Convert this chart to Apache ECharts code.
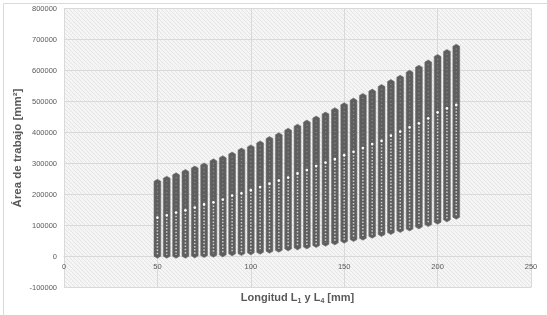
<!DOCTYPE html>
<html>
<head>
<meta charset="utf-8">
<script src="https://cdn.jsdelivr.net/npm/echarts@6/dist/echarts.min.js"></script>
<style>
html,body{margin:0;padding:0;background:#fff;}
#chart{width:547px;height:315px;}
</style>
</head>
<body>
<div id="chart"></div>
<script>
// Longitud L1 y L4 [mm] (one column of points per length)
const lengths = [50,55,60,65,70,75,80,85,90,95,100,105,110,115,120,125,130,135,140,145,150,155,160,165,170,175,180,185,190,195,200,205,210];
// Smallest work area in each column [mm2]
const areaMin = [5400,5400,5400,5400,6500,7500,8600,9700,12900,14000,16100,18300,21500,24700,29000,32300,35500,39800,44100,48400,53800,59100,63400,69900,75300,81700,88200,93500,100000,107500,115100,122600,131200];
// Largest work area in each column [mm2]
const areaMax = [238000,248000,259000,270000,281000,291000,304000,314000,326000,339000,349000,362000,376000,388000,403000,416000,429000,442000,455000,469000,485000,500000,515000,529000,544000,560000,574000,590000,606000,623000,641000,657000,674000];
// Upper end of the sparser (lighter) part of each column [mm2]
const areaSparseTop = [126000,133000,142000,149000,158000,168000,175000,184000,197000,204000,214000,224000,235000,245000,255000,268000,279000,292000,303000,314000,327000,338000,350000,363000,373000,390000,403000,417000,430000,446000,465000,478000,489000];
// Axis ticks
const xTicks = {min: 0, max: 250, step: 50};
const yTicks = {min: -100000, max: 800000, step: 100000};

const columns = lengths.map((x, i) => [x, areaMin[i], areaMax[i], areaSparseTop[i]]);

// hatched plot background
const pc = document.createElement('canvas');
pc.width = 4; pc.height = 4;
const g = pc.getContext('2d');
g.fillStyle = '#f5f5f5'; g.fillRect(0,0,4,4);
g.strokeStyle = '#e4e4e4'; g.lineWidth = 1;
g.beginPath(); g.moveTo(-1,-1); g.lineTo(5,5); g.stroke();
g.beginPath(); g.moveTo(-1,3); g.lineTo(1,5); g.stroke();
g.beginPath(); g.moveTo(3,-1); g.lineTo(5,1); g.stroke();

const txt = '#595959';
const chart = echarts.init(document.getElementById('chart'), null, {renderer: 'canvas'});

function renderColumn(params, api) {
  const x = api.value(0);
  const top = api.coord([x, api.value(2)]);
  const bot = api.coord([x, api.value(1)]);
  const mid = api.coord([x, api.value(3)]);
  const cx = top[0], w = 3.4, cap = 3.4;
  return {
    type: 'group',
    children: [
      {type: 'polygon', shape: {points: [
        [cx, top[1]-cap], [cx+w, top[1]-cap*0.4], [cx+w, bot[1]+cap*0.4],
        [cx, bot[1]+cap], [cx-w, bot[1]+cap*0.4], [cx-w, top[1]-cap*0.4]]},
        style: {fill: '#5e5e5e', stroke: '#707070', lineWidth: 0.6}},
      {type: 'line', shape: {x1: cx, y1: top[1]+1, x2: cx, y2: mid[1]},
        style: {stroke: '#888888', lineWidth: 1.2, lineDash: [1.2, 2.6]}},
      {type: 'line', shape: {x1: cx, y1: mid[1], x2: cx, y2: bot[1]},
        style: {stroke: '#d0d0d0', lineWidth: 1.5, lineDash: [1.5, 1.7]}},
      {type: 'circle', shape: {cx: cx, cy: mid[1], r: 1.3}, style: {fill: '#ffffff'}}
    ]
  };
}

chart.setOption({
  animation: false,
  backgroundColor: '#ffffff',
  grid: {left: 64, right: 16, top: 8.5, bottom: 27.5, show: true, containLabel: false,
    outerBoundsMode: 'none',
    backgroundColor: {image: pc, repeat: 'repeat'}, borderWidth: 0},
  graphic: [{type: 'rect', left: 1, top: 1, shape: {width: 544, height: 312},
    style: {fill: null, stroke: '#d9d9d9', lineWidth: 1}, silent: true}],
  xAxis: {
    type: 'value', min: xTicks.min, max: xTicks.max, interval: xTicks.step,
    position: 'bottom', offset: -31,
    axisLine: {show: true, onZero: false, lineStyle: {color: '#d9d9d9'}},
    axisTick: {show: false},
    splitLine: {show: true, lineStyle: {color: '#d9d9d9', width: 1}},
    axisLabel: {color: txt, fontSize: 7.5, fontFamily: 'Liberation Sans', margin: 6},
    name: 'Longitud L{sub|1} y L{sub|4} [mm]', nameLocation: 'middle', nameGap: 35,
    nameMoveOverlap: false,
    nameTextStyle: {color: txt, fontSize: 11, fontWeight: 'bold', fontFamily: 'Liberation Sans',
      rich: {sub: {fontSize: 7, fontWeight: 'bold', color: txt, fontFamily: 'Liberation Sans', padding: [6,0,0,0]}}}
  },
  yAxis: {
    type: 'value', min: yTicks.min, max: yTicks.max, interval: yTicks.step,
    axisLine: {show: false}, axisTick: {show: false},
    splitLine: {show: true, lineStyle: {color: '#d9d9d9', width: 1}},
    axisLabel: {color: txt, fontSize: 7.5, fontFamily: 'Liberation Sans', margin: 7, formatter: v => String(v)},
    name: 'Área de trabajo [mm²]', nameLocation: 'middle', nameGap: 40, nameRotate: 90,
    nameMoveOverlap: false,
    nameTextStyle: {color: txt, fontSize: 11.5, fontWeight: 'bold', fontFamily: 'Liberation Sans'}
  },
  series: [{
    type: 'custom',
    data: columns,
    encode: {x: 0, y: [1, 2]},
    renderItem: renderColumn,
    clip: false
  }]
});
</script>
</body>
</html>
